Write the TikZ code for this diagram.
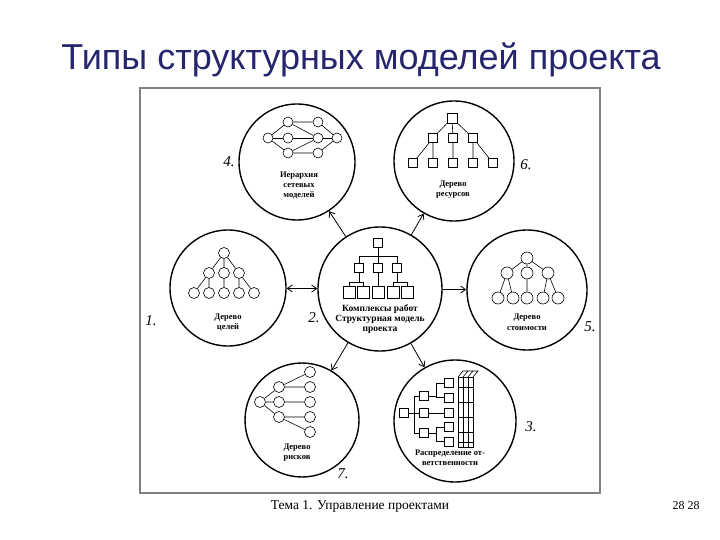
\documentclass[tikz,border=0pt]{standalone}
\usepackage{fontspec}
\setmainfont{Liberation Serif}
\newfontfamily\titlefont{Liberation Sans}
\usepackage{tikz}
\usetikzlibrary{arrows.meta}
\definecolor{titleblue}{HTML}{26266E}

\begin{document}
\begin{tikzpicture}[x=1pt,y=-1pt,
        >={Straight Barb[length=5pt,width=7pt]},
        big/.style={draw,circle,line width=1.4pt,inner sep=0pt},
        ring/.style={draw,circle,line width=0.6pt,minimum size=11pt,inner sep=0pt},
        box/.style={draw,line width=0.6pt,minimum size=9pt,inner sep=0pt},
        edge/.style={line width=0.6pt},
        arr/.style={line width=0.8pt},
        lbl/.style={font=\fontsize{8.5}{10}\selectfont\bfseries,align=center},
        num/.style={font=\fontsize{15}{15}\selectfont\itshape}]
            \useasboundingbox (0,0) rectangle (720,540);
            \node[anchor=base,text=titleblue,font=\titlefont\fontsize{36}{36}\selectfont] (title) at (361,70) {Типы структурных моделей проекта};
            \draw[gray,line width=1.2pt] (140,88) rectangle (600,493);

            \node[big,minimum size=116pt] (n4) at (297,162) {};
            \node[big,minimum size=120pt] (n6) at (454,161) {};
            \node[big,minimum size=116pt] (n1) at (228,288) {};
            \node[big,minimum size=124pt] (n2) at (380,289) {};
            \node[big,minimum size=120pt] (n5) at (527,290) {};
            \node[big,minimum size=114pt] (n7) at (302,420) {};
            \node[big,minimum size=122pt] (n3) at (455,421) {};

            \draw[arr,->] (n2) -- (n4);
            \draw[arr,->] (n2) -- (n6);
            \draw[arr,<->] (n1) -- (n2);
            \draw[arr,->] (n2) -- (n5);
            \draw[arr,->] (n2) -- (n7);
            \draw[arr,->] (n2) -- (n3);

            \node[ring,minimum size=10pt] (n4a) at (268,138) {};
            \node[ring,minimum size=10pt] (n4b) at (288,122) {};
            \node[ring,minimum size=10pt] (n4c) at (318,122) {};
            \node[ring,minimum size=10pt] (n4d) at (288,138) {};
            \node[ring,minimum size=10pt] (n4e) at (318,138) {};
            \node[ring,minimum size=10pt] (n4f) at (337,138) {};
            \node[ring,minimum size=10pt] (n4g) at (288,153) {};
            \node[ring,minimum size=10pt] (n4h) at (318,153) {};
            \draw[edge] (n4a) -- (n4b) -- (n4c) -- (n4f) -- (n4h) -- (n4g) -- (n4a);
            \draw[edge] (n4a) -- (n4d) -- (n4e) -- (n4f);
            \draw[edge] (n4b) -- (n4e) (n4g) -- (n4e);
            \node[lbl] (t4) at (299,185) {Иерархия\\сетевых\\моделей};
            \node[num] (l4) at (229,162) {4.};

            \node[box,minimum size=10pt] (n6a) at (452,118) {};
            \node[box] (n6b) at (433,138) {};
            \node[box] (n6c) at (453,138) {};
            \node[box] (n6d) at (473,138) {};
            \node[box] (n6e) at (413,163) {};
            \node[box] (n6f) at (433,163) {};
            \node[box] (n6g) at (453,163) {};
            \node[box] (n6h) at (473,163) {};
            \node[box] (n6i) at (493,163) {};
            \draw[edge] (n6a) -- (n6b) (n6a) -- (n6c) (n6a) -- (n6d);
            \draw[edge] (n6b) -- (n6e) (n6b) -- (n6f) (n6c) -- (n6g) (n6d) -- (n6h) (n6d) -- (n6i);
            \node[lbl] (t6) at (453,190) {Дерево\\ресурсов};
            \node[num] (l6) at (526,165) {6.};

            \node[ring] (n1a) at (224,253) {};
            \node[ring] (n1b) at (209,273) {};
            \node[ring] (n1c) at (224,273) {};
            \node[ring] (n1d) at (239,273) {};
            \node[ring] (n1e) at (194,293) {};
            \node[ring] (n1f) at (209,293) {};
            \node[ring] (n1g) at (224,293) {};
            \node[ring] (n1h) at (239,293) {};
            \node[ring] (n1i) at (254,293) {};
            \draw[edge] (n1a) -- (n1b) (n1a) -- (n1c) (n1a) -- (n1d);
            \draw[edge] (n1b) -- (n1e) (n1b) -- (n1f) (n1c) -- (n1g) (n1d) -- (n1h) (n1d) -- (n1i);
            \node[lbl] (t1) at (228,322) {Дерево\\целей};
            \node[num] (l1) at (151,321) {1.};

            \node[box] (n2a) at (378,243) {};
            \node[box] (n2b) at (359,268) {};
            \node[box] (n2c) at (378,268) {};
            \node[box] (n2d) at (397,268) {};
            \node[box,minimum size=12pt] (n2e) at (349,292) {};
            \node[box,minimum size=12pt] (n2f) at (363,292) {};
            \node[box,minimum size=12pt] (n2g) at (378,292) {};
            \node[box,minimum size=12pt] (n2h) at (393,292) {};
            \node[box,minimum size=12pt] (n2i) at (407,292) {};
            \coordinate (b2) at (378,256);
            \coordinate (b2l) at (359,282);
            \coordinate (b2r) at (397,282);
            \draw[edge] (n2a) -- (n2c) (b2) -| (n2b) (b2) -| (n2d);
            \draw[edge] (n2b) -- (b2l) (b2l) -| (n2e) (b2l) -| (n2f);
            \draw[edge] (n2d) -- (b2r) (b2r) -| (n2h) (b2r) -| (n2i);
            \draw[edge] (n2c) -- (n2g);
            \node[lbl,font=\fontsize{9.5}{10}\selectfont\bfseries] (t2) at (380,319) {Комплексы работ\\Структурная модель\\проекта};
            \node[num] (l2) at (314,318) {2.};

            \node[ring,minimum size=12pt] (n5a) at (527,258) {};
            \node[ring,minimum size=12pt] (n5b) at (507,273) {};
            \node[ring,minimum size=12pt] (n5c) at (527,273) {};
            \node[ring,minimum size=12pt] (n5d) at (548,273) {};
            \node[ring,minimum size=12pt] (n5e) at (498,298) {};
            \node[ring,minimum size=12pt] (n5f) at (513,298) {};
            \node[ring,minimum size=12pt] (n5g) at (527,298) {};
            \node[ring,minimum size=12pt] (n5h) at (543,298) {};
            \node[ring,minimum size=12pt] (n5i) at (558,298) {};
            \draw[edge] (n5a) -- (n5b) (n5a) -- (n5c) (n5a) -- (n5d);
            \draw[edge] (n5b) -- (n5e) (n5b) -- (n5f) (n5c) -- (n5g) (n5d) -- (n5h) (n5d) -- (n5i);
            \node[lbl,font=\fontsize{8.5}{11}\selectfont\bfseries] (t5) at (527,322) {Дерево\\стоимости};
            \node[num] (l5) at (590,327) {5.};

            \node[ring] (n7a) at (260,402) {};
            \node[ring] (n7b) at (279,387) {};
            \node[ring] (n7c) at (279,402) {};
            \node[ring] (n7d) at (279,417) {};
            \node[ring] (n7e) at (310,372) {};
            \node[ring] (n7f) at (310,387) {};
            \node[ring] (n7g) at (310,402) {};
            \node[ring] (n7h) at (310,417) {};
            \node[ring] (n7i) at (310,432) {};
            \draw[edge] (n7a) -- (n7b) (n7a) -- (n7c) (n7a) -- (n7d);
            \draw[edge] (n7b) -- (n7e) (n7b) -- (n7f) (n7c) -- (n7g) (n7d) -- (n7h) (n7d) -- (n7i);
            \node[lbl] (t7) at (297,453) {Дерево\\рисков};
            \node[num] (l7) at (343,474) {7.};

            \node[box] (n3a) at (404,413) {};
            \node[box] (n3b) at (424,396) {};
            \node[box] (n3c) at (424,413) {};
            \node[box] (n3d) at (424,433) {};
            \node[box] (n3e) at (449,383) {};
            \node[box] (n3f) at (449,397.5) {};
            \node[box] (n3g) at (449,413) {};
            \node[box] (n3h) at (449,427) {};
            \node[box] (n3i) at (449,441.5) {};
            \coordinate (b3) at (414,413);
            \coordinate (b3t) at (436,396);
            \coordinate (b3b) at (436,433);
            \draw[edge] (n3a) -- (n3c) (b3) |- (n3b) (b3) |- (n3d);
            \draw[edge] (n3b) -- (b3t) (b3t) |- (n3e) (b3t) |- (n3f);
            \draw[edge] (n3d) -- (b3b) (b3b) |- (n3h) (b3b) |- (n3i);
            \draw[edge] (n3c) -- (n3g);
            \draw[edge] (458,377) rectangle (473,447);
            \draw[edge] (463,377) -- (463,447) (468,377) -- (468,447);
            \draw[edge] (458,387) -- (473,387) (458,402) -- (473,402) (458,417) -- (473,417) (458,432) -- (473,432) (458,442) -- (473,442);
            \draw[edge] (458,377) -- (463,371) -- (478,371) -- (473,377) (463,377) -- (468,371) (468,377) -- (473,371);
            \node[lbl] (t3) at (450,458) {Распределение от-\\ветственности};
            \node[num] (l3) at (531,427) {3.};

            \node[font=\fontsize{13.5}{13.5}\selectfont] (foot) at (360,506) {Тема 1. Управление проектами};
            \node[font=\fontsize{12}{12}\selectfont] (page) at (686,506) {28 28};
\end{tikzpicture}
\end{document}
